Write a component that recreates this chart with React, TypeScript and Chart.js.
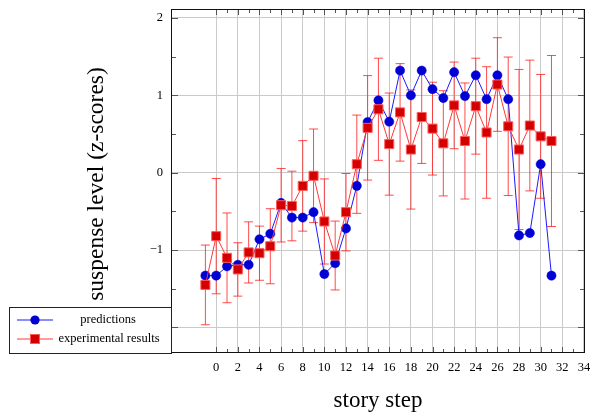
import React, { useEffect, useRef } from "react";
import { Chart, registerables } from "chart.js";

Chart.register(...registerables);

const steps = [-1, 0, 1, 2, 3, 4, 5, 6, 7, 8, 9, 10, 11, 12, 13, 14, 15, 16, 17, 18, 19, 20, 21, 22, 23, 24, 25, 26, 27, 28, 29, 30, 31];
const predictions = [-1.33, -1.33, -1.21, -1.19, -1.19, -0.86, -0.79, -0.39, -0.58, -0.58, -0.51, -1.31, -1.17, -0.72, -0.17, 0.655, 0.935, 0.66, 1.32, 1.0, 1.32, 1.08, 0.965, 1.3, 0.99, 1.26, 0.95, 1.26, 0.95, -0.81, -0.78, 0.11, -1.33];
const experimental = [-1.45, -0.82, -1.1, -1.25, -1.03, -1.04, -0.95, -0.42, -0.43, -0.17, -0.04, -0.63, -1.07, -0.51, 0.11, 0.58, 0.82, 0.37, 0.78, 0.3, 0.72, 0.57, 0.38, 0.87, 0.41, 0.86, 0.52, 1.14, 0.6, 0.3, 0.61, 0.47, 0.41];
const experimentalError = [0.515, 0.745, 0.58, 0.345, 0.395, 0.35, 0.485, 0.475, 0.45, 0.585, 0.605, 0.55, 0.445, 0.5, 0.635, 0.675, 0.66, 0.66, 0.63, 0.77, 0.6, 0.6, 0.68, 0.56, 0.75, 0.62, 0.85, 0.605, 0.895, 1.035, 0.845, 0.8, 1.105];

const xMajorTicks = [0, 2, 4, 6, 8, 10, 12, 14, 16, 18, 20, 22, 24, 26, 28, 30, 32, 34];
const xMinorTicks = [1, 3, 5, 7, 9, 11, 13, 15, 17, 19, 21, 23, 25, 27, 29, 31, 33];
const yMajorTicks = [-2, -1, 0, 1, 2];
const yMinorTicks = [-1.5, -0.5, 0.5, 1.5];

const seriesLabels = ["predictions", "experimental results"];
const xTitle = "story step";
const yTitle = "suspense level (z-scores)";

const FONT = "'Liberation Serif', 'Times New Roman', serif";
const BLUE_LINE = "#1a1aff";
const BLUE_FILL = "#0000d4";
const RED_LINE = "#ff3838";
const RED_FILL = "#d40000";
const RED_BORDER = "#ff5a5a";
const ERR_COLOR = "rgba(255,30,30,0.8)";

const errorBarPlugin = {
  id: "errorBars",
  beforeDatasetsDraw(chart: any) {
    const { ctx, scales } = chart;
    const xs = scales.x;
    const ys = scales.y;
    ctx.save();
    ctx.strokeStyle = ERR_COLOR;
    ctx.lineWidth = 1;
    steps.forEach((s, i) => {
      const px = xs.getPixelForValue(s);
      const top = ys.getPixelForValue(experimental[i] + experimentalError[i]);
      const bot = ys.getPixelForValue(experimental[i] - experimentalError[i]);
      ctx.beginPath();
      ctx.moveTo(px, top);
      ctx.lineTo(px, bot);
      ctx.moveTo(px - 4.5, top);
      ctx.lineTo(px + 4.5, top);
      ctx.moveTo(px - 4.5, bot);
      ctx.lineTo(px + 4.5, bot);
      ctx.stroke();
    });
    ctx.restore();
  },
};

const framePlugin = {
  id: "frameAndDecor",
  afterDatasetsDraw(chart: any) {
    const { ctx, chartArea, scales } = chart;
    const { left, right, top, bottom } = chartArea;
    const xs = scales.x;
    const ys = scales.y;
    ctx.save();
    ctx.strokeStyle = "#555";
    ctx.lineWidth = 1;
    ctx.beginPath();
    const tickX = (v: number, len: number) => {
      const p = Math.round(xs.getPixelForValue(v)) + 0.5;
      ctx.moveTo(p, bottom);
      ctx.lineTo(p, bottom - len);
      ctx.moveTo(p, top);
      ctx.lineTo(p, top + len);
    };
    const tickY = (v: number, len: number) => {
      const p = Math.round(ys.getPixelForValue(v)) + 0.5;
      ctx.moveTo(left, p);
      ctx.lineTo(left + len, p);
      ctx.moveTo(right, p);
      ctx.lineTo(right - len, p);
    };
    xMajorTicks.forEach((v) => tickX(v, 6));
    xMinorTicks.forEach((v) => tickX(v, 4));
    yMajorTicks.forEach((v) => tickY(v, 7));
    yMinorTicks.forEach((v) => tickY(v, 5));
    ctx.stroke();
    ctx.strokeStyle = "#111";
    ctx.strokeRect(Math.round(left) + 0.5, Math.round(top) + 0.5, Math.round(right - left) - 1, Math.round(bottom - top) - 1);
    ctx.restore();
  },
  afterDraw(chart: any) {
    const { ctx, chartArea } = chart;
    ctx.save();
    ctx.fillStyle = "#000";
    ctx.font = `23px ${FONT}`;
    ctx.textAlign = "center";
    ctx.textBaseline = "middle";
    ctx.fillText(xTitle, (chartArea.left + chartArea.right) / 2, 401);
    ctx.save();
    ctx.translate(97, 184);
    ctx.rotate(-Math.PI / 2);
    ctx.font = `23.5px ${FONT}`;
    ctx.fillText(yTitle, 0, 0);
    ctx.restore();

    const bx = 9.5, by = 307.5, bw = 162, bh = 46;
    ctx.fillStyle = "#fff";
    ctx.fillRect(bx, by, bw, bh);
    ctx.strokeStyle = "#222";
    ctx.lineWidth = 1;
    ctx.strokeRect(bx, by, bw, bh);
    const rows = [320, 339];
    ctx.strokeStyle = BLUE_LINE;
    ctx.beginPath();
    ctx.moveTo(17, rows[0]);
    ctx.lineTo(53, rows[0]);
    ctx.stroke();
    ctx.fillStyle = BLUE_FILL;
    ctx.beginPath();
    ctx.arc(35, rows[0], 4.6, 0, Math.PI * 2);
    ctx.fill();
    ctx.strokeStyle = RED_LINE;
    ctx.beginPath();
    ctx.moveTo(17, rows[1]);
    ctx.lineTo(53, rows[1]);
    ctx.stroke();
    ctx.fillStyle = RED_FILL;
    ctx.fillRect(30.5, rows[1] - 4.5, 9, 9);
    ctx.strokeStyle = RED_BORDER;
    ctx.strokeRect(30.5, rows[1] - 4.5, 9, 9);
    ctx.fillStyle = "#000";
    ctx.font = `12.5px ${FONT}`;
    ctx.textAlign = "center";
    ctx.fillText(seriesLabels[0], 108, rows[0]);
    ctx.fillText(seriesLabels[1], 109, rows[1]);
    ctx.restore();
  },
};

const zeroPad = (scale: any) => {
  scale.paddingLeft = 0;
  scale.paddingRight = 0;
  scale.paddingTop = 0;
  scale.paddingBottom = 0;
};

export default function App() {
  const canvasRef = useRef<HTMLCanvasElement | null>(null);

  useEffect(() => {
    if (!canvasRef.current) return;
    const chart = new Chart(canvasRef.current, {
      type: "line",
      data: {
        datasets: [
          {
            label: seriesLabels[1],
            data: steps.map((s, i) => ({ x: s, y: experimental[i] })),
            borderColor: RED_LINE,
            borderWidth: 1,
            backgroundColor: RED_FILL,
            pointStyle: "rect",
            pointRadius: 6.4,
            pointBorderColor: RED_BORDER,
            pointBorderWidth: 1,
            pointBackgroundColor: RED_FILL,
            tension: 0,
          },
          {
            label: seriesLabels[0],
            data: steps.map((s, i) => ({ x: s, y: predictions[i] })),
            borderColor: BLUE_LINE,
            borderWidth: 1,
            backgroundColor: BLUE_FILL,
            pointStyle: "circle",
            pointRadius: 4.6,
            pointBorderColor: BLUE_FILL,
            pointBorderWidth: 0.5,
            pointBackgroundColor: BLUE_FILL,
            tension: 0,
          },
        ],
      },
      options: {
        animation: false,
        responsive: true,
        maintainAspectRatio: false,
        devicePixelRatio: 1,
        layout: { padding: { top: 9, right: 8, left: 0, bottom: 0 } },
        plugins: {
          legend: { display: false },
          tooltip: { enabled: false },
        },
        scales: {
          x: {
            type: "linear",
            min: -4.18,
            max: 34.1,
            afterBuildTicks: (scale: any) => {
              scale.ticks = xMajorTicks.map((v) => ({ value: v }));
            },
            afterFit: (scale: any) => {
              scale.height = 62;
              zeroPad(scale);
            },
            ticks: {
              padding: 7,
              autoSkip: false,
              maxRotation: 0,
              color: "#000",
              font: { family: FONT, size: 12.5 },
              callback: (v: any) => String(v),
            },
            grid: { color: "#cacaca", lineWidth: 1, drawTicks: false },
            border: { display: false },
          },
          y: {
            type: "linear",
            min: -2.33,
            max: 2.116,
            afterBuildTicks: (scale: any) => {
              scale.ticks = yMajorTicks.map((v) => ({ value: v }));
            },
            afterFit: (scale: any) => {
              scale.width = 171;
              zeroPad(scale);
            },
            ticks: {
              padding: 8,
              autoSkip: false,
              color: "#000",
              font: { family: FONT, size: 12.5 },
              callback: (v: any) => String(v).replace("-", "\u2212"),
            },
            grid: { color: "#cacaca", lineWidth: 1, drawTicks: false },
            border: { display: false },
          },
        },
      },
      plugins: [errorBarPlugin, framePlugin],
    });
    return () => chart.destroy();
  }, []);

  return (
    <div style={{ position: "absolute", left: 0, top: 0, width: 590, height: 415, overflow: "hidden", background: "#fff" }}>
      <div style={{ position: "relative", width: 593, height: 415 }}>
        <canvas ref={canvasRef} />
      </div>
    </div>
  );
}
